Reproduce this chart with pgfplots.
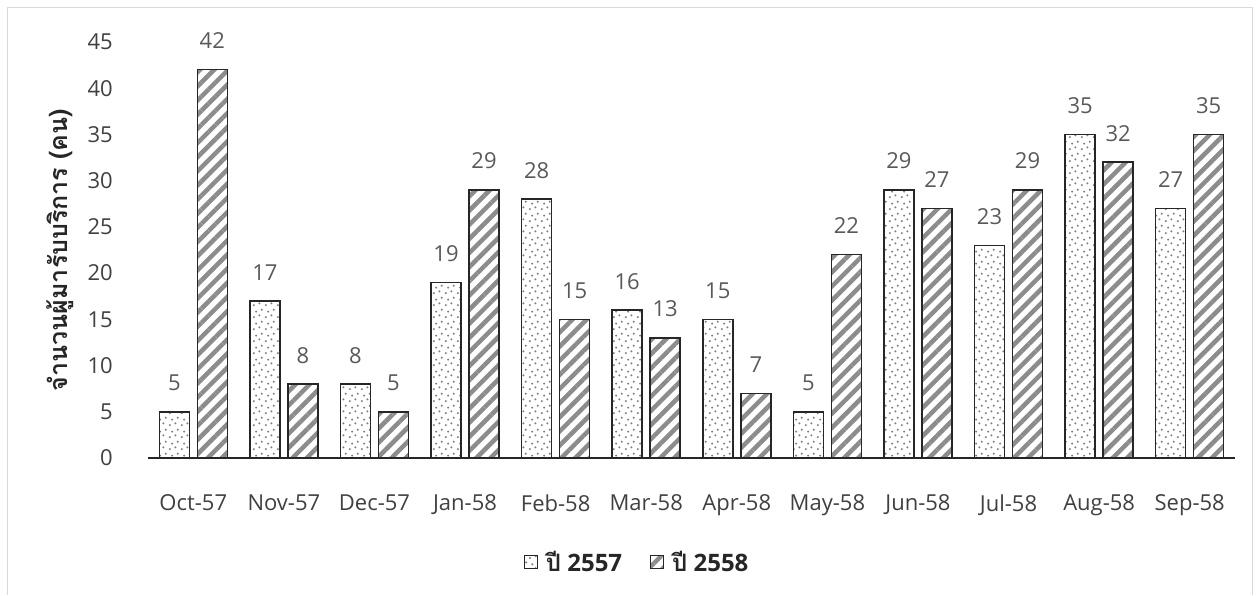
\documentclass[border=0pt]{standalone}
\usepackage{pgfplots}
\pgfplotsset{compat=1.18}
\usepackage{fontspec}
\setmainfont{Open Sans}
\newfontfamily\thaifont[Script=Thai]{Loma}
\usetikzlibrary{patterns.meta}
\definecolor{tickc}{HTML}{404040}
\definecolor{labc}{HTML}{595959}
\definecolor{edge}{HTML}{262626}
\definecolor{stripe}{HTML}{8C8C8C}
\definecolor{dotc}{HTML}{808080}
\definecolor{frame}{HTML}{D9D9D9}
\tikzdeclarepattern{
  name=sdots,
  type=uncolored,
  bounding box={(0pt,0pt) and (12pt,12pt)},
  tile size={(12pt,12pt)},
  code={
    \fill (2pt,2pt) circle (1.2pt);
    \fill (8pt,4pt) circle (1.2pt);
    \fill (4.5pt,8pt) circle (1.2pt);
    \fill (10.5pt,10pt) circle (1.2pt);
  }
}
\begin{document}
\begin{tikzpicture}
\useasboundingbox (0pt,0pt) rectangle (1259pt,595pt);
\draw[frame, line width=1pt] (7pt,0pt) -- (7pt,587pt) -- (1252pt,587pt) -- (1252pt,0pt);
\begin{axis}[
  at={(148pt,137pt)}, anchor=south west,
  scale only axis, width=1087pt, height=416pt,
  xmin=-0.5, xmax=11.5, ymin=0, ymax=45,
  ybar=8pt, bar width=30pt,
  axis x line*=bottom, axis y line*=left,
  x axis line style={draw=edge, line width=1.5pt, -},
  y axis line style={draw=none},
  tick style={draw=none},
  /pgf/number format/assume math mode=true,
  font=\fontsize{22}{26}\selectfont,
  xtick={0,...,11},
  xticklabels={Oct-57,Nov-57,Dec-57,Jan-58,Feb-58,Mar-58,Apr-58,May-58,Jun-58,Jul-58,Aug-58,Sep-58},
  ytick={0,5,...,45},
  xticklabel style={anchor=north, inner sep=0pt, yshift=-32pt, text=tickc},
  yticklabel style={anchor=east, inner sep=0pt, xshift=-35pt, text=tickc},
  ylabel={\thaifont\bfseries\fontsize{25}{28}\selectfont จำนวนผู้มารับบริการ (คน)},
  ylabel style={at={(axis description cs:-0.081,0.5)}, anchor=center, text=edge},
  nodes near coords,
  every node near coord/.append style={text=labc, inner sep=0pt, anchor=south, yshift=20pt, font=\fontsize{22}{26}\selectfont},
  legend style={at={(axis description cs:0.45,-0.25)}, anchor=center, draw=none, fill=none,
    legend columns=2, font=\bfseries\fontsize{24}{28}\selectfont, text=edge,
    /tikz/every odd column/.append style={column sep=6pt},
    /tikz/every even column/.append style={column sep=26pt}},
  legend image code/.code={\draw[#1, line width=1pt] (0pt,-6.5pt) rectangle (13pt,6.5pt);},
]
\addplot[draw=edge, line width=1.5pt, pattern=sdots, pattern color=dotc]
  coordinates {(0,5)(1,17)(2,8)(3,19)(4,28)(5,16)(6,15)(7,5)(8,29)(9,23)(10,35)(11,27)};
\addplot[draw=edge, line width=1.5pt, pattern={Lines[angle=45,distance=10pt,line width=4.5pt]}, pattern color=stripe]
  coordinates {(0,42)(1,8)(2,5)(3,29)(4,15)(5,13)(6,7)(7,22)(8,27)(9,29)(10,32)(11,35)};
\legend{{\thaifont ปี} 2557,{\thaifont ปี} 2558}
\end{axis}
\end{tikzpicture}
\end{document}
